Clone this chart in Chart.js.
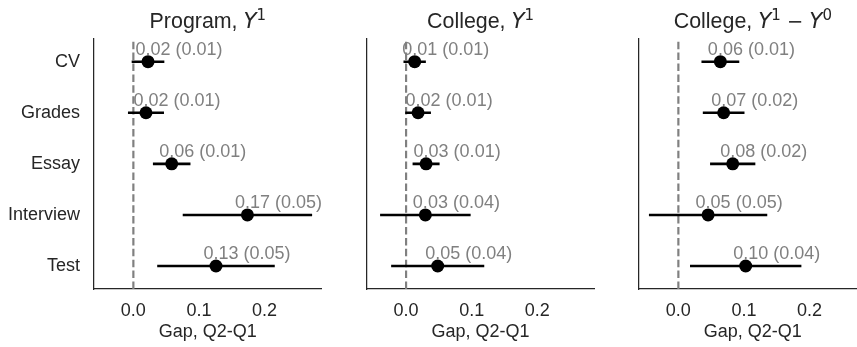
<!DOCTYPE html>
<html>
<head>
<meta charset="utf-8">
<script src="https://cdn.jsdelivr.net/npm/chart.js@4/dist/chart.umd.min.js"></script>
<style>
  html, body { margin: 0; padding: 0; background: #ffffff; overflow: hidden; width: 857px; height: 347px; }
  canvas { position: absolute; left: 0; top: 0; }
</style>
</head>
<body>
<canvas id="p0" width="900" height="347"></canvas>
<canvas id="p1" width="900" height="347"></canvas>
<canvas id="p2" width="900" height="347"></canvas>
<script>
// Rows (top to bottom) and x-axis ticks
const categories = ["CV", "Grades", "Essay", "Interview", "Test"];
const xTicks = [0, 0.1, 0.2];

// Gap estimates and standard errors, Q2 minus Q1
const programY1Est = [0.0223, 0.0192, 0.0584, 0.1738, 0.1259];
const programY1Se  = [0.0127, 0.0140, 0.0146, 0.0503, 0.0457];

const collegeY1Est = [0.0131, 0.0183, 0.0305, 0.0294, 0.0482];
const collegeY1Se  = [0.0087, 0.0100, 0.0105, 0.0352, 0.0362];

const collegeDiffEst = [0.0640, 0.0690, 0.0828, 0.0453, 0.1026];
const collegeDiffSe  = [0.0147, 0.0162, 0.0176, 0.0460, 0.0433];

const Z = 1.96;
const X_MIN = -0.06, X_MAX = 0.287;
const Y_MIN = -0.45, Y_MAX = 4.45;

const SANS = "'Liberation Sans', Arial, sans-serif";
const MATH = "'DejaVu Sans', sans-serif";
const TEXT = "#262626";
const TITLE_PX = 21.4;
const SUP_PX = 15;

Chart.defaults.font.family = SANS;
Chart.defaults.color = TEXT;

const panels = [
  {
    id: "p0", left: 94, yAxisW: 90, showY: true, est: programY1Est, se: programY1Se,
    title: [
      { text: "Program, ", font: `${TITLE_PX}px ${SANS}` },
      { text: "Y", font: `italic ${TITLE_PX}px ${MATH}` },
      { text: "1", font: `${SUP_PX}px ${MATH}`, rise: 8 }
    ]
  },
  {
    id: "p1", left: 366.7, yAxisW: 0, showY: false, est: collegeY1Est, se: collegeY1Se,
    title: [
      { text: "College, ", font: `${TITLE_PX}px ${SANS}` },
      { text: "Y", font: `italic ${TITLE_PX}px ${MATH}` },
      { text: "1", font: `${SUP_PX}px ${MATH}`, rise: 8 }
    ]
  },
  {
    id: "p2", left: 639, yAxisW: 0, showY: false, est: collegeDiffEst, se: collegeDiffSe,
    title: [
      { text: "College, ", font: `${TITLE_PX}px ${SANS}` },
      { text: "Y", font: `italic ${TITLE_PX}px ${MATH}` },
      { text: "1", font: `${SUP_PX}px ${MATH}`, rise: 8 },
      { text: " \u2212 ", font: `${TITLE_PX - 2}px ${MATH}` },
      { text: "Y", font: `italic ${TITLE_PX}px ${MATH}` },
      { text: "0", font: `${SUP_PX}px ${MATH}`, rise: 8 }
    ]
  }
];

const PANEL_W = 227.7;
const CANVAS_W = 900;

function makePanel(p) {
  const datasets = [];

  // dashed reference line at zero
  datasets.push({
    data: [{ x: 0, y: Y_MAX }, { x: 0, y: Y_MIN }],
    showLine: true, borderColor: "#808080", borderWidth: 2.2,
    borderDash: [7.5, 3.4], pointRadius: 0, order: 3
  });

  // 95% intervals
  p.est.forEach((e, i) => {
    datasets.push({
      data: [{ x: e - Z * p.se[i], y: i }, { x: e + Z * p.se[i], y: i }],
      showLine: true, borderColor: "#000000", borderWidth: 2.6,
      pointRadius: 0, order: 2
    });
  });

  // point estimates
  datasets.push({
    data: p.est.map((e, i) => ({ x: e, y: i })),
    backgroundColor: "#000000", borderColor: "#000000", borderWidth: 0,
    pointRadius: 6.5, order: 1
  });

  const titlePlugin = {
    id: "panelTitle",
    afterDraw(chart) {
      const ctx = chart.ctx;
      let total = 0;
      const widths = p.title.map(part => {
        ctx.font = part.font;
        const w = ctx.measureText(part.text).width;
        total += w;
        return w;
      });
      const area = chart.chartArea;
      let x = (area.left + area.right) / 2 - total / 2;
      const y = 28;
      ctx.save();
      ctx.fillStyle = TEXT;
      ctx.textAlign = "left";
      ctx.textBaseline = "alphabetic";
      p.title.forEach((part, k) => {
        ctx.font = part.font;
        ctx.fillText(part.text, x, y - (part.rise || 0));
        x += widths[k];
      });
      ctx.restore();
    }
  };

  const labelPlugin = {
    id: "valueLabels",
    afterDatasetsDraw(chart) {
      const ctx = chart.ctx;
      const xs = chart.scales.x, ys = chart.scales.y;
      ctx.save();
      ctx.fillStyle = "#808080";
      ctx.font = `18px ${SANS}`;
      ctx.textAlign = "left";
      ctx.textBaseline = "alphabetic";
      p.est.forEach((e, i) => {
        const label = `${e.toFixed(2)} (${p.se[i].toFixed(2)})`;
        ctx.fillText(label, xs.getPixelForValue(e) - 12.5, ys.getPixelForValue(i) - 7);
      });
      ctx.restore();
    }
  };

  new Chart(document.getElementById(p.id), {
    type: "scatter",
    data: { datasets },
    options: {
      responsive: false,
      animation: false,
      devicePixelRatio: 1,
      layout: {
        padding: { left: p.left - p.yAxisW, right: CANVAS_W - p.left - PANEL_W, top: 38.7, bottom: 0 }
      },
      plugins: { legend: { display: false }, tooltip: { enabled: false } },
      scales: {
        x: {
          type: "linear", min: X_MIN, max: X_MAX,
          afterBuildTicks: s => { s.ticks = xTicks.map(v => ({ value: v })); },
          afterFit: s => { s.height = 58; },
          ticks: {
            callback: v => Number(v).toFixed(1),
            color: TEXT, font: { size: 18 }, padding: 11,
            maxRotation: 0, autoSkip: false
          },
          grid: { display: false, drawTicks: false },
          border: { display: true, color: TEXT, width: 1.25 },
          title: {
            display: true, text: "Gap, Q2-Q1", color: TEXT,
            font: { size: 18 }, padding: { top: 0, bottom: 4 }
          }
        },
        y: {
          type: "linear", reverse: true, min: Y_MIN, max: Y_MAX,
          afterBuildTicks: s => { s.ticks = categories.map((c, i) => ({ value: i })); },
          afterFit: s => { s.width = p.yAxisW; },
          ticks: {
            display: p.showY,
            callback: v => categories[v],
            color: TEXT, font: { size: 18 }, padding: 14, autoSkip: false
          },
          grid: { display: false, drawTicks: false },
          border: { display: true, color: TEXT, width: 1.25 }
        }
      }
    },
    plugins: [titlePlugin, labelPlugin]
  });
}

panels.forEach(makePanel);
</script>
</body>
</html>
